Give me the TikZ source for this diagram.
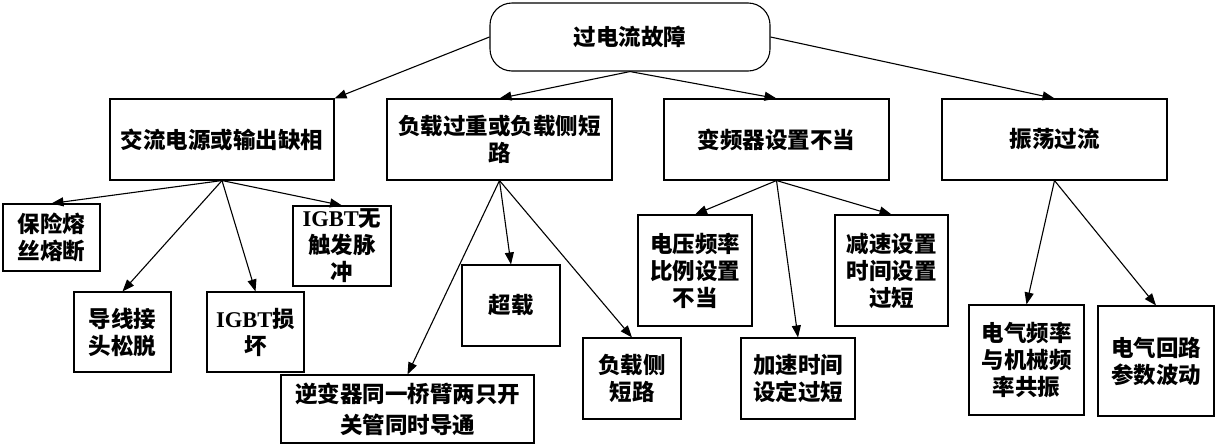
\documentclass[tikz,border=0pt]{standalone}
\usepackage{fontspec}
\setmainfont{Liberation Serif}
\newfontfamily\cjk{Noto Sans CJK SC}
\newfontfamily\latn{Liberation Serif}
\usetikzlibrary{arrows.meta}
\begin{document}
\begin{tikzpicture}[x=1pt,y=-1pt,
  box/.style={draw, line width=1.1pt, align=center, inner sep=0pt,
    font=\cjk\bfseries\fontsize{22.5}{27}\selectfont},
  arr/.style={-{Triangle[length=12pt,width=9pt]}, line width=1.1pt}]
\useasboundingbox (0,0) rectangle (1216,445);
% root
\node[box, rounded corners=22pt, minimum width=280pt, minimum height=68pt] (root) at (630,37) {过电流故障};
% level 1
\node[box, minimum width=224pt, minimum height=81pt] (b1) at (222,139.5) {交流电源或输出缺相};
\node[box, minimum width=225pt, minimum height=81pt] (b2) at (499.5,139.5) {负载过重或负载侧短\\路};
\node[box, minimum width=225pt, minimum height=81pt] (b3) at (776.5,139.5) {变频器设置不当};
\node[box, minimum width=225pt, minimum height=81pt] (b4) at (1054.5,139.5) {振荡过流};
% level 2 under b1
\node[box, minimum width=97pt, minimum height=67pt] (c1) at (51.5,237.5) {保险熔\\丝熔断};
\node[box, minimum width=97pt, minimum height=80pt] (c2) at (122.5,332) {导线接\\头松脱};
\node[box, minimum width=97pt, minimum height=80pt] (c3) at (255.5,332) {{\latn IGBT}损\\坏};
\node[box, minimum width=98pt, minimum height=80pt] (c4) at (342,246) {{\latn IGBT}无\\触发脉\\冲};
% under b2
\node[box, minimum width=253pt, minimum height=68pt, font=\cjk\bfseries\fontsize{22.5}{31}\selectfont] (d1) at (407.5,409) {逆变器同一桥臂两只开\\关管同时导通};
\node[box, minimum width=98pt, minimum height=81pt] (d2) at (511,305.5) {超载};
\node[box, minimum width=98pt, minimum height=81pt] (d3) at (632,378.5) {负载侧\\短路};
% under b3
\node[box, minimum width=114pt, minimum height=111pt] (e1) at (695,270.5) {电压频率\\比例设置\\不当};
\node[box, minimum width=114pt, minimum height=81pt] (e2) at (798,378.5) {加速时间\\设定过短};
\node[box, minimum width=113pt, minimum height=111pt] (e3) at (891.5,270.5) {减速设置\\时间设置\\过短};
% under b4
\node[box, minimum width=115pt, minimum height=110pt] (f1) at (1026.5,360) {电气频率\\与机械频\\率共振};
\node[box, minimum width=116pt, minimum height=110pt] (f2) at (1156,361) {电气回路\\参数波动};
% connectors
\draw[arr] (root.west) -- (b1.north east);
\draw[arr] (root.south) -- (b2.north);
\draw[arr] (root.south) -- (b3.north);
\draw[arr] (root.east) -- (b4.north);
\draw[arr] (b1.south) -- (c1.north);
\draw[arr] (b1.south) -- (c2.north);
\draw[arr] (b1.south) -- (c3.north);
\draw[arr] (b1.south) -- (c4.north);
\draw[arr] (b2.south) -- (d1.north);
\draw[arr] (b2.south) -- (d2.north);
\draw[arr] (b2.south) -- (d3.north);
\draw[arr] (b3.south) -- (e1.north);
\draw[arr] (b3.south) -- (e2.north);
\draw[arr] (b3.south) -- (e3.north);
\draw[arr] (b4.south) -- (f1.north);
\draw[arr] (b4.south) -- (f2.north);
\end{tikzpicture}
\end{document}
